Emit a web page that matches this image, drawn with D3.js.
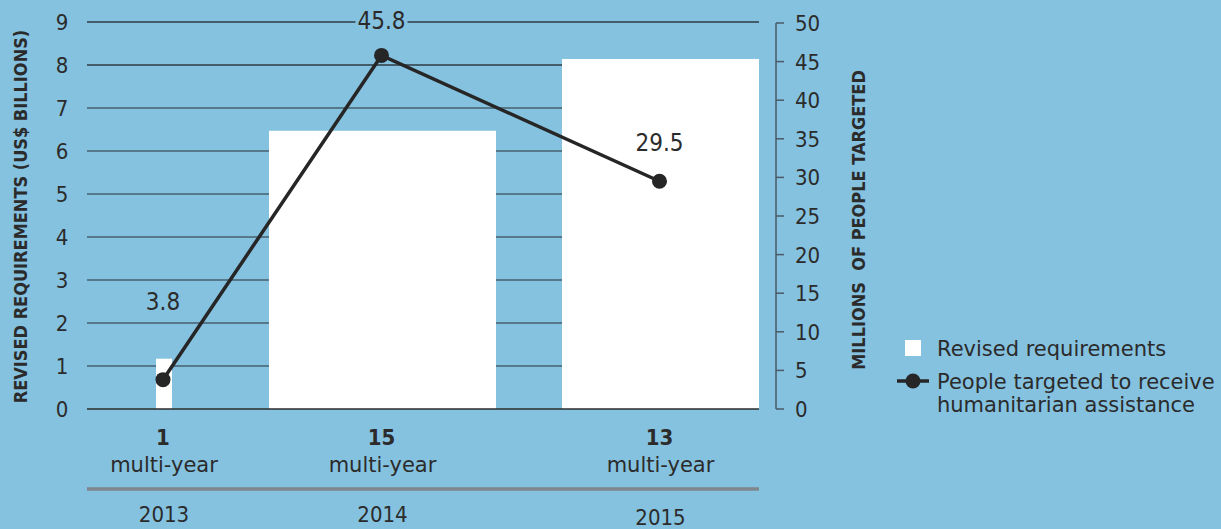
<!DOCTYPE html>
<html>
<head>
<meta charset="utf-8">
<script src="https://cdn.jsdelivr.net/npm/d3@7"></script>
<style>
  html, body { margin: 0; padding: 0; background: #85c2e0; }
  svg { display: block; }
  text { font-family: "DejaVu Sans", sans-serif; fill: #2b2b2b; }
  .cond { font-family: "DejaVu Sans Condensed", "DejaVu Sans", sans-serif; }
</style>
</head>
<body>
<svg id="chart" width="1221" height="529"></svg>
<script>
// ---- data ----
const years = ["2013", "2014", "2015"];
const appealCounts = ["1", "15", "13"];
const appealType = ["multi-year", "multi-year", "multi-year"];
const requirements = [1.17, 6.47, 8.14];       // US$ billions
const peopleTargeted = [3.8, 45.8, 29.5];      // millions
const leftTicks = [0, 1, 2, 3, 4, 5, 6, 7, 8, 9];
const rightTicks = [0, 5, 10, 15, 20, 25, 30, 35, 40, 45, 50];
const legendLabels = ["Revised requirements", "People targeted to receive", "humanitarian assistance"];

// ---- layout ----
const plotLeft = 87, plotRight = 759, plotTop = 22, plotBottom = 409;
const barCenters = [164, 382.5, 660.5];
const barWidths = [16, 227, 197];

const svg = d3.select("#chart");
const yL = d3.scaleLinear().domain([0, 9]).range([plotBottom, plotTop]);
const yR = d3.scaleLinear().domain([0, 50]).range([plotBottom, 23]);
const xC = d3.scaleOrdinal().domain(years).range(barCenters);
const xW = d3.scaleOrdinal().domain(years).range(barWidths);

// gridlines
const grid = svg.append("g");
grid.selectAll("line").data(leftTicks.filter(d => d > 0)).join("line")
  .attr("x1", plotLeft).attr("x2", plotRight)
  .attr("y1", d => yL(d)).attr("y2", d => yL(d))
  .attr("stroke", d => d >= 8 ? "#2f3b44" : "#46606f").attr("stroke-width", 1.5);

// left tick labels
svg.append("g").selectAll("text").data(leftTicks).join("text")
  .attr("class", "cond")
  .attr("x", 62).attr("y", d => yL(d)).attr("dy", "0.36em")
  .attr("text-anchor", "middle").attr("font-size", 22)
  .text(d => d);

// bars
svg.append("g").selectAll("rect").data(years).join("rect")
  .attr("x", (d) => xC(d) - xW(d) / 2)
  .attr("width", d => xW(d))
  .attr("y", (d, i) => yL(requirements[i]))
  .attr("height", (d, i) => yL(0) - yL(requirements[i]))
  .attr("fill", "#ffffff");

// baseline
svg.append("line").attr("x1", plotLeft).attr("x2", plotRight)
  .attr("y1", yL(0)).attr("y2", yL(0))
  .attr("stroke", "#2b2b2b").attr("stroke-width", 1.5);

// right axis
const rAxis = svg.append("g").attr("transform", "translate(776,0)");
rAxis.append("line").attr("x1", 0).attr("x2", 0)
  .attr("y1", yR(50)).attr("y2", yR(0))
  .attr("stroke", "#4a5a66").attr("stroke-width", 1.5);
rAxis.selectAll("line.tick").data(rightTicks).join("line").attr("class", "tick")
  .attr("x1", 0).attr("x2", 8)
  .attr("y1", d => yR(d)).attr("y2", d => yR(d))
  .attr("stroke", "#4a5a66").attr("stroke-width", 1.5);
rAxis.selectAll("text").data(rightTicks).join("text")
  .attr("class", "cond")
  .attr("x", 19).attr("y", d => yR(d)).attr("dy", "0.36em")
  .attr("font-size", 22)
  .text(d => d);

// line series
const line = d3.line().x((d, i) => xC(years[i]) - 1).y(d => yR(d));
svg.append("path").datum(peopleTargeted)
  .attr("d", line).attr("fill", "none")
  .attr("stroke", "#262626").attr("stroke-width", 3.5);
svg.append("g").selectAll("circle").data(peopleTargeted).join("circle")
  .attr("cx", (d, i) => xC(years[i]) - 1).attr("cy", d => yR(d))
  .attr("r", 7.5).attr("fill", "#262626");

// value labels with background
const vl = svg.append("g").selectAll("g").data(peopleTargeted).join("g")
  .attr("transform", (d, i) => `translate(${xC(years[i]) - 1},${i === 0 ? yR(d) - 78 : i === 1 ? yR(d) - 35 : yR(d) - 39})`);
vl.append("rect").attr("x", -26).attr("y", -13).attr("width", 52).attr("height", 26)
  .attr("fill", (d, i) => i === 2 ? "#ffffff" : "#85c2e0");
vl.append("text").attr("class", "cond").attr("text-anchor", "middle").attr("dy", "0.36em")
  .attr("font-size", 24).text(d => d.toFixed(1));

// axis titles
svg.append("text")
  .attr("class", "cond")
  .attr("transform", `translate(27,${(28 + 405) / 2}) rotate(-90)`)
  .attr("text-anchor", "middle").attr("font-size", 18).attr("font-weight", "bold")
  .attr("fill", "#333")
  .text("REVISED REQUIREMENTS (US$ BILLIONS)");
svg.append("text")
  .attr("class", "cond")
  .attr("transform", `translate(865,${(68 + 372) / 2}) rotate(-90)`)
  .attr("text-anchor", "middle").attr("font-size", 18).attr("font-weight", "bold")
  .attr("fill", "#333")
  .attr("xml:space", "preserve")
  .text("MILLIONS  OF PEOPLE TARGETED");

// category labels below
const cat = svg.append("g").selectAll("g").data(years).join("g");
cat.append("text").attr("class", "cond").attr("x", d => xC(d) - 1).attr("y", 445)
  .attr("text-anchor", "middle").attr("font-size", 22).attr("font-weight", "bold")
  .text((d, i) => appealCounts[i]);
cat.append("text").attr("x", d => xC(d)).attr("y", 472)
  .attr("text-anchor", "middle").attr("font-size", 21)
  .text((d, i) => appealType[i]);
cat.append("text").attr("class", "cond").attr("x", d => xC(d)).attr("y", (d, i) => i === 2 ? 525 : 522)
  .attr("text-anchor", "middle").attr("font-size", 22)
  .text(d => d);

svg.append("line").attr("x1", plotLeft).attr("x2", plotRight)
  .attr("y1", 489).attr("y2", 489)
  .attr("stroke", "#7f868c").attr("stroke-width", 3.5);

// legend
const lg = svg.append("g");
lg.append("rect").attr("x", 905).attr("y", 340).attr("width", 16).attr("height", 16).attr("fill", "#ffffff");
lg.append("text").attr("x", 937).attr("y", 356).attr("font-size", 21).text(legendLabels[0]);
lg.append("line").attr("x1", 897).attr("x2", 929).attr("y1", 381).attr("y2", 381)
  .attr("stroke", "#262626").attr("stroke-width", 3.5);
lg.append("circle").attr("cx", 913).attr("cy", 381).attr("r", 7.5).attr("fill", "#262626");
lg.append("text").attr("x", 937).attr("y", 389).attr("font-size", 21).text(legendLabels[1]);
lg.append("text").attr("x", 937).attr("y", 412).attr("font-size", 21).text(legendLabels[2]);
</script>
</body>
</html>
